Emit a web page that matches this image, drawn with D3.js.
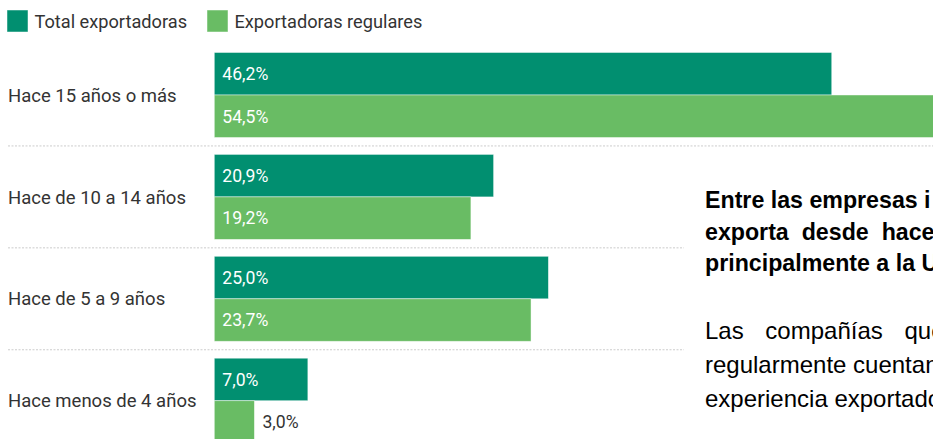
<!DOCTYPE html>
<html lang="es">
<head>
<meta charset="utf-8">
<script src="https://cdn.jsdelivr.net/npm/d3@7"></script>
<style>
  html, body { margin: 0; padding: 0; background: #fff; overflow: hidden; }
  svg { display: block; }
</style>
</head>
<body>
<svg id="chart" width="933" height="439"></svg>
<script>
// Antigüedad exportadora: share of firms by years since they began exporting
const categories = ["Hace 15 años o más", "Hace de 10 a 14 años", "Hace de 5 a 9 años", "Hace menos de 4 años"];
const seriesNames = ["Total exportadoras", "Exportadoras regulares"];
const totalValues = [46.2, 20.9, 25.0, 7.0];
const regularValues = [54.5, 19.2, 23.7, 3.0];
const seriesColors = ["#018f70", "#69bc64"];

// Side note text block
const noteBold = ["Entre las empresas i", "exporta desde hace", "principalmente a la U"];
const noteBody = ["Las compañías que", "regularmente cuentan", "experiencia exportado"];

const svg = d3.select("#chart");
const W = 933, H = 439;

const values = [totalValues, regularValues];
const rows = categories.map((c, i) => ({
  cat: c,
  bars: seriesNames.map((s, j) => ({ series: s, value: values[j][i], color: seriesColors[j] }))
}));

const x = d3.scaleLinear().domain([0, 50]).range([214.3, 882.5]);
const y = d3.scaleBand().domain(categories).range([52.5, 443.2]).paddingInner(0.166).paddingOuter(0);
const ySub = d3.scaleBand().domain(seriesNames).range([0, y.bandwidth()]);

const fmt = v => d3.format(".1f")(v).replace(".", ",") + "%";

// Legend
const legend = svg.append("g").attr("class", "legend");
const legendX = [7, 207];
seriesNames.forEach((s, j) => {
  const g = legend.append("g").attr("transform", `translate(${legendX[j]},10)`);
  g.append("rect").attr("width", 21).attr("height", 22)
    .attr("fill", seriesColors[j]).attr("stroke", "rgba(255,255,255,0.6)").attr("stroke-width", 0.8);
  g.append("text").attr("x", 27.5).attr("y", 17.5)
    .attr("font-family", "Roboto, sans-serif").attr("font-size", 18.2).attr("fill", "#333")
    .text(s);
});

// Dotted separators between rows
const seps = categories.slice(1).map(c => y(c) - (y.step() - y.bandwidth()) / 2);
svg.append("g").selectAll("line").data(seps).join("line")
  .attr("x1", 8).attr("x2", W).attr("y1", d => d).attr("y2", d => d)
  .attr("stroke", "#cccccc").attr("stroke-width", 1).attr("stroke-dasharray", "2,1.5");

// Rows of grouped bars
const rowG = svg.append("g").selectAll("g.row").data(rows).join("g")
  .attr("class", "row").attr("transform", d => `translate(0,${y(d.cat)})`);

rowG.append("text")
  .attr("x", 8).attr("y", y.bandwidth() / 2).attr("dy", "0.36em")
  .attr("font-family", "Roboto, sans-serif").attr("font-size", 18.5).attr("fill", "#333")
  .text(d => d.cat);

const barG = rowG.selectAll("g.bar").data(d => d.bars).join("g").attr("class", "bar");

barG.append("rect")
  .attr("x", x(0))
  .attr("y", d => ySub(d.series))
  .attr("width", d => x(d.value) - x(0))
  .attr("height", ySub.bandwidth())
  .attr("fill", d => d.color)
  .attr("stroke", "rgba(255,255,255,0.55)").attr("stroke-width", 0.8);

barG.append("text")
  .attr("x", d => (x(d.value) - x(0) > 60 ? x(0) + 8 : x(d.value) + 8))
  .attr("y", d => ySub(d.series) + ySub.bandwidth() / 2)
  .attr("dy", "0.36em")
  .attr("font-family", "Roboto, sans-serif").attr("font-size", 17.6)
  .attr("fill", d => (x(d.value) - x(0) > 60 ? "#fff" : "#333"))
  .text(d => fmt(d.value));

// Side note panel over the right part of the chart
const note = svg.append("g").attr("class", "note");
note.append("rect").attr("x", 684).attr("y", 160).attr("width", W - 684).attr("height", H - 160).attr("fill", "#fff");

const boldBaselines = [208, 239.5, 271];
const boldSpacing = [0, 6.5, 0];
note.selectAll("text.b").data(noteBold).join("text").attr("class", "b")
  .attr("x", 705).attr("y", (d, i) => boldBaselines[i])
  .attr("font-family", "'Liberation Sans', Arial, sans-serif").attr("font-weight", "bold")
  .attr("font-size", 23.2).attr("fill", "#000")
  .attr("word-spacing", (d, i) => boldSpacing[i])
  .text(d => d);

const bodyBaselines = [339, 373, 407];
const bodySpacing = [15, 0, 0];
note.selectAll("text.r").data(noteBody).join("text").attr("class", "r")
  .attr("x", 705).attr("y", (d, i) => bodyBaselines[i])
  .attr("font-family", "'Liberation Sans', Arial, sans-serif")
  .attr("font-size", 24).attr("fill", "#000")
  .attr("word-spacing", (d, i) => bodySpacing[i])
  .text(d => d);
</script>
</body>
</html>
